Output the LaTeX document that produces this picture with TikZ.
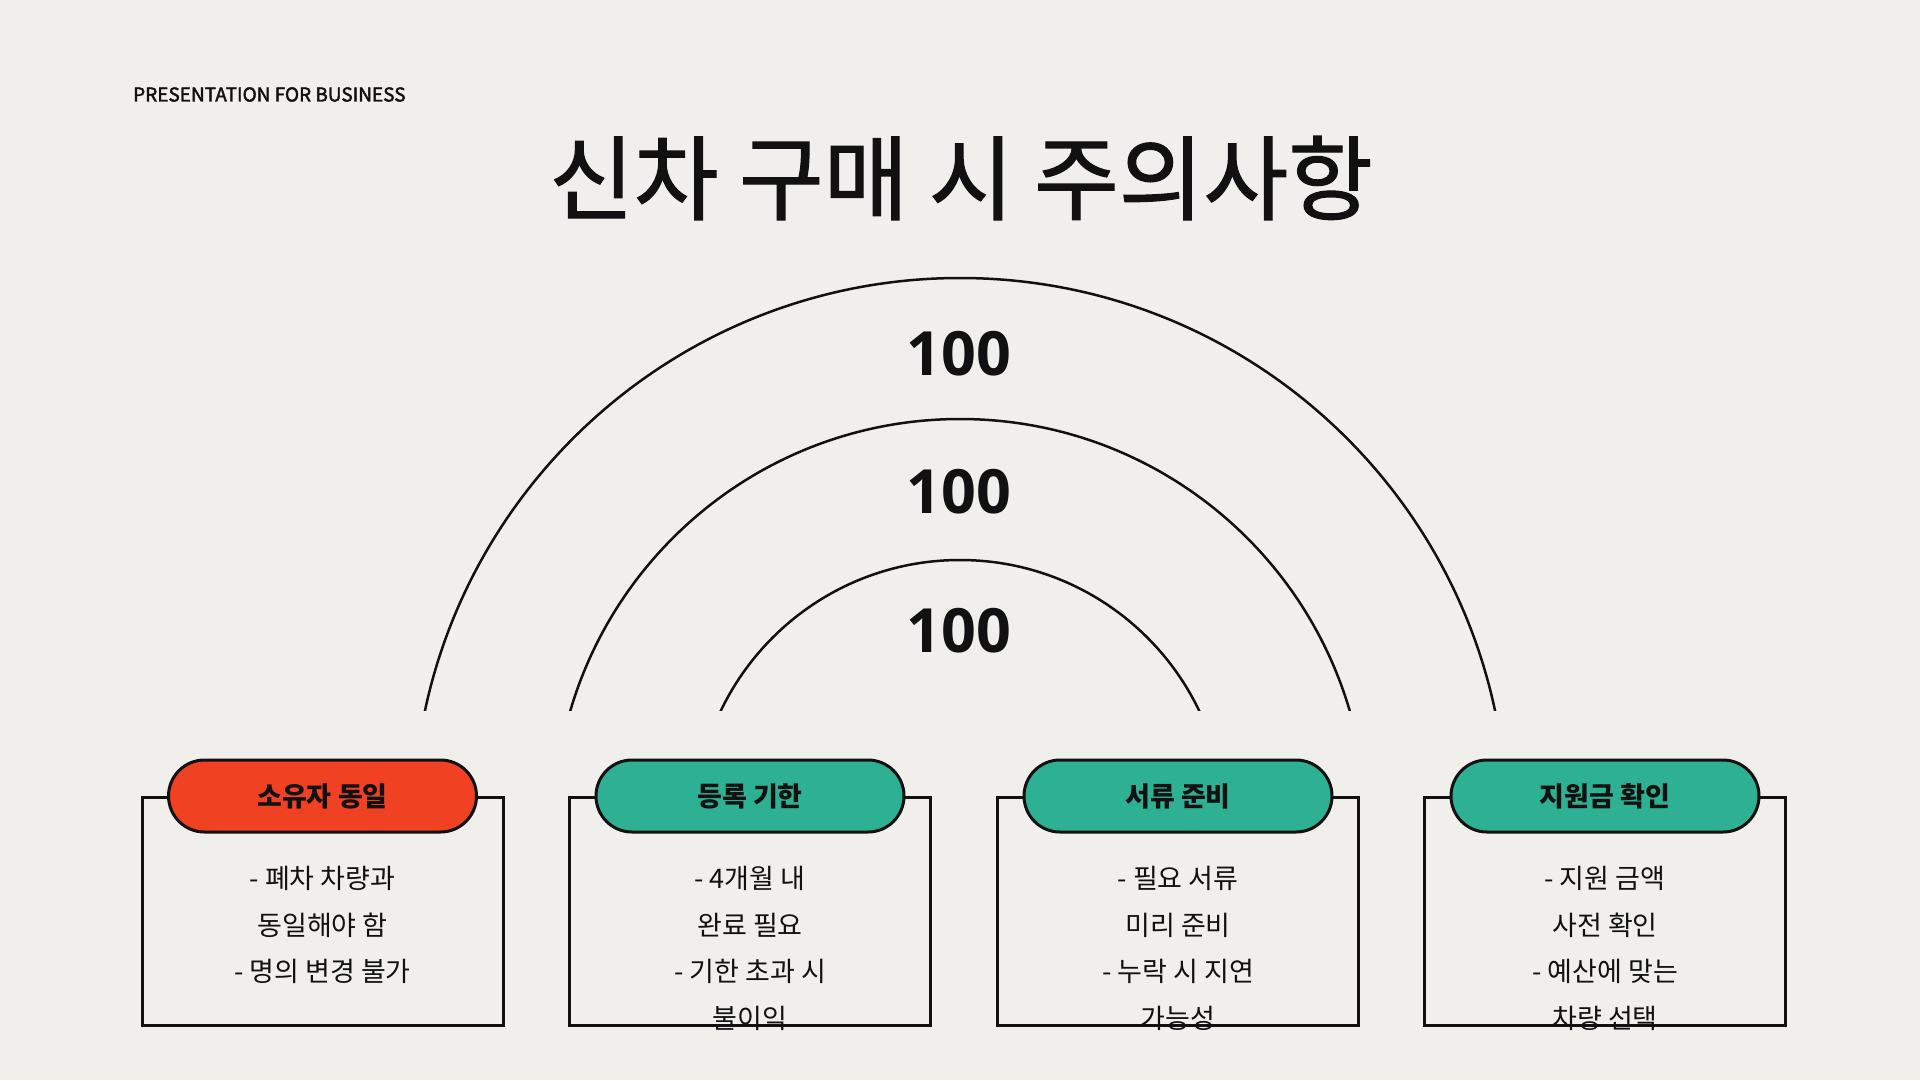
\documentclass[tikz,border=0pt]{standalone}
\usepackage{fontspec}
\setmainfont{Noto Sans CJK KR}
\newfontfamily\numf{Open Sans}
\newfontfamily\krmed[FakeBold=1.3]{Noto Sans CJK KR}
\newfontfamily\hdrf[FakeBold=2.2]{Noto Sans CJK KR}
\definecolor{bgc}{HTML}{F0EFEB}
\definecolor{orng}{HTML}{F04122}
\definecolor{grn}{HTML}{2EB192}
\definecolor{ink}{HTML}{111111}
\tikzset{
  bodybox/.style={draw=ink, line width=3pt, minimum width=361pt, minimum height=228pt, inner sep=0pt},
  pill/.style={draw=ink, line width=3pt, rounded corners=36pt, minimum width=308pt, minimum height=72pt, inner sep=0pt, font=\fontsize{27}{30}\selectfont\bfseries, text=ink},
  bodytext/.style={anchor=north, inner sep=0pt, align=center, text=ink, font=\fontsize{27}{46.7}\selectfont},
  num/.style={font=\numf\fontsize{61}{70}\selectfont\bfseries, text=ink},
  arcline/.style={draw=ink, line width=2.5pt}
}
\begin{document}
\begin{tikzpicture}[x=1pt,y=-1pt]
\fill[bgc] (0,0) rectangle (1920,1080);
\useasboundingbox (0,0) rectangle (1920,1080);

\node[anchor=west, inner sep=0pt, text=ink, font=\hdrf\fontsize{19}{24}\selectfont] (hdr) at (133,94.5) {PRESENTATION FOR BUSINESS};
\node[text=ink, font=\krmed\fontsize{92}{100}\selectfont] (title) at (961,178) {신차 구매 시 주의사항};

\begin{scope}
  \clip (0,0) rectangle (1920,710);
  \draw[arcline] (960,825) circle[radius=547pt];
  \draw[arcline] (960,825) circle[radius=406pt];
  \draw[arcline] (960,825) circle[radius=265pt];
\end{scope}

\node[num] (n1) at (959,354) {100};
\node[num] (n2) at (959,492) {100};
\node[num] (n3) at (959,631) {100};

% boxes
\node[bodybox] (b1) at (322.5,911) {};
\node[bodybox] (b2) at (750,911) {};
\node[bodybox] (b3) at (1178,911) {};
\node[bodybox] (b4) at (1605,911) {};

\node[pill, fill=orng] (p1) at (322.5,796) {소유자 동일};
\node[pill, fill=grn] (p2) at (750,796) {등록 기한};
\node[pill, fill=grn] (p3) at (1178,796) {서류 준비};
\node[pill, fill=grn] (p4) at (1605,796) {지원금 확인};

\node[bodytext] (t1) at (322.5,866) {- 폐차 차량과\\동일해야 함\\- 명의 변경 불가};
\node[bodytext] (t2) at (750,866) {- 4개월 내\\완료 필요\\- 기한 초과 시\\불이익};
\node[bodytext] (t3) at (1178,866) {- 필요 서류\\미리 준비\\- 누락 시 지연\\가능성};
\node[bodytext] (t4) at (1605,866) {- 지원 금액\\사전 확인\\- 예산에 맞는\\차량 선택};
\end{tikzpicture}
\end{document}
